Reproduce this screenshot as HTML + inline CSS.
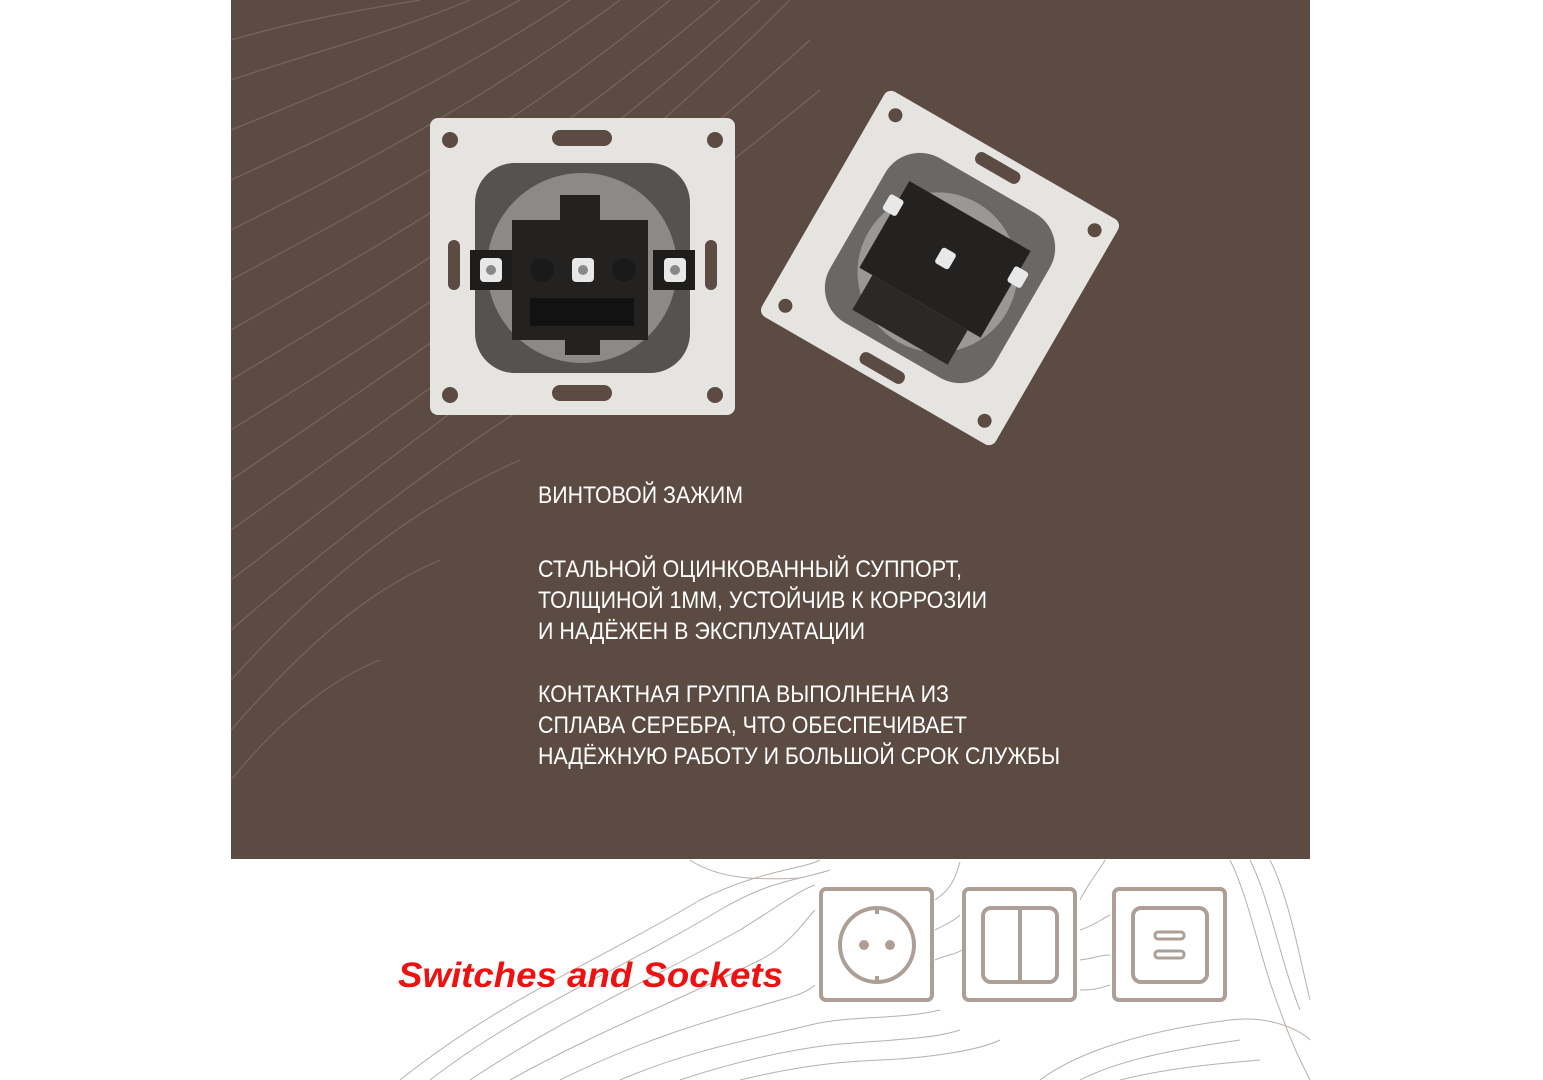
<!DOCTYPE html>
<html><head><meta charset="utf-8"><style>
html,body{margin:0;padding:0;background:#fff;}
svg{display:block}
</style></head><body>
<svg width="1543" height="1080" viewBox="0 0 1543 1080" xmlns="http://www.w3.org/2000/svg">
<rect width="1543" height="1080" fill="#fff"/>
<rect x="231" y="0" width="1079" height="859" fill="#5b4b42"/>
<!-- contour lines on brown -->
<g fill="none" stroke="#76665c" stroke-width="1.2">
<path d="M231 40 C300 20 360 10 420 0"/>
<path d="M231 80 C320 50 400 30 470 0"/>
<path d="M231 130 C330 90 430 50 520 0"/>
<path d="M231 180 C340 130 450 80 570 0"/>
<path d="M231 230 C350 170 470 110 620 0"/>
<path d="M231 280 C360 210 500 140 670 0"/>
<path d="M231 330 C370 250 520 170 720 0"/>
<path d="M231 380 C380 290 540 200 760 0"/>
<path d="M231 430 C390 330 560 230 790 0"/>
<path d="M231 480 C390 370 580 250 810 40"/>
<path d="M231 530 C400 410 600 270 820 90"/>
<path d="M231 580 C400 450 560 330 700 230"/>
<path d="M231 630 C380 500 500 420 600 360"/>
<path d="M231 680 C340 560 430 500 520 460"/>
<path d="M231 730 C310 640 370 590 440 560"/>
<path d="M231 780 C280 720 330 680 380 660"/>
</g>
<!-- contour lines on white -->
<g fill="none" stroke="#b8b0aa" stroke-width="1">
<path d="M400 1080 C500 1000 600 960 700 900 C760 870 800 870 820 860"/>
<path d="M430 1080 C520 1010 620 970 720 910 C770 880 800 880 830 870"/>
<path d="M470 1080 C560 1020 650 980 740 930 C780 905 800 890 815 885"/>
<path d="M510 1080 C600 1030 680 1000 760 960 C790 945 805 920 815 910"/>
<path d="M560 1080 C640 1040 710 1020 780 1000 C800 995 810 990 815 985"/>
<path d="M620 1080 C690 1050 750 1040 810 1025 C850 1015 900 1020 940 1010"/>
<path d="M680 1080 C740 1060 790 1050 830 1045 C880 1040 930 1040 960 1030"/>
<path d="M740 1080 C790 1068 830 1062 880 1060 C930 1058 980 1050 1000 1040"/>
<path d="M690 860 C720 880 760 880 800 878"/>
<path d="M935 900 C950 890 955 880 960 862"/>
<path d="M935 930 C945 925 955 920 960 915"/>
<path d="M935 960 C945 955 955 955 962 950"/>
<path d="M1080 900 C1090 880 1100 870 1105 860"/>
<path d="M1080 930 C1095 925 1100 920 1110 915"/>
<path d="M1080 960 C1095 958 1100 955 1110 955"/>
<path d="M1080 990 C1095 990 1100 988 1110 985"/>
<path d="M1230 860 C1250 900 1260 960 1280 1010 C1290 1040 1300 1060 1310 1080"/>
<path d="M1250 860 C1270 900 1280 960 1300 1010"/>
<path d="M1270 860 C1290 900 1300 960 1310 1000"/>
<path d="M1040 1080 C1080 1050 1150 1030 1230 1020 C1270 1015 1300 1030 1310 1040"/>
<path d="M1080 1080 C1120 1060 1170 1050 1240 1040"/>
<path d="M1120 1080 C1160 1070 1200 1065 1260 1060"/>
</g>
<!-- icons -->
<g fill="#fff" stroke="#ad9f96" stroke-width="4">
<rect x="821" y="889" width="111" height="111" rx="5"/>
<rect x="964" y="889" width="111" height="111" rx="5"/>
<rect x="1114" y="889" width="111" height="111" rx="5"/>
<circle cx="877" cy="945" r="37" fill="none"/>
<rect x="983" y="908" width="74" height="74" rx="8" fill="none"/>
<line x1="1020" y1="908" x2="1020" y2="982"/>
<rect x="1133" y="908" width="74" height="74" rx="8" fill="none"/>
<rect x="1155" y="932" width="29" height="7" rx="3" fill="none" stroke-width="3"/>
<rect x="1155" y="951" width="29" height="7" rx="3" fill="none" stroke-width="3"/>
</g>
<g fill="#ad9f96"><circle cx="864" cy="945" r="5"/><circle cx="890" cy="945" r="5"/>
<rect x="875" y="908" width="4" height="6"/><rect x="875" y="976" width="4" height="6"/></g>
<text x="398" y="987" font-family="Liberation Sans, sans-serif" font-size="35" font-weight="bold" font-style="italic" fill="#ee1111" textLength="385" lengthAdjust="spacingAndGlyphs">Switches and Sockets</text>
<!-- front socket -->
<g>
<rect x="430" y="118" width="305" height="297" rx="8" fill="#e6e4e1"/>
<circle cx="450" cy="140" r="8" fill="#5b4b42"/><circle cx="715" cy="140" r="8" fill="#5b4b42"/>
<circle cx="450" cy="395" r="8" fill="#5b4b42"/><circle cx="715" cy="395" r="8" fill="#5b4b42"/>
<rect x="552" y="130" width="60" height="16" rx="8" fill="#5b4b42"/>
<rect x="552" y="385" width="60" height="16" rx="8" fill="#5b4b42"/>
<rect x="448" y="240" width="12" height="50" rx="6" fill="#5b4b42"/>
<rect x="705" y="240" width="12" height="50" rx="6" fill="#5b4b42"/>
<rect x="475" y="163" width="215" height="210" rx="40" fill="#555250"/>
<circle cx="582" cy="268" r="95" fill="#8c8a88"/>
<path d="M512 220 H560 V195 H600 V220 H648 V340 H600 V355 H565 V340 H512 Z" fill="#232221"/>
<rect x="530" y="298" width="104" height="28" fill="#121212"/>
<rect x="470" y="250" width="42" height="40" fill="#1e1d1c"/>
<rect x="653" y="250" width="42" height="40" fill="#1e1d1c"/>
<rect x="480" y="258" width="22" height="24" rx="4" fill="#e8e8e8"/><circle cx="491" cy="270" r="5" fill="#888"/>
<rect x="572" y="258" width="22" height="24" rx="4" fill="#e8e8e8"/><circle cx="583" cy="270" r="5" fill="#888"/>
<rect x="664" y="258" width="22" height="24" rx="4" fill="#e8e8e8"/><circle cx="675" cy="270" r="5" fill="#888"/>
<circle cx="542" cy="270" r="12" fill="#1a1a1a"/><circle cx="624" cy="270" r="12" fill="#1a1a1a"/>
</g>
<!-- rotated socket -->
<g transform="translate(940 268) rotate(30)">
<rect x="-135" y="-130" width="270" height="260" rx="8" fill="#e6e4e1"/>
<circle cx="-115" cy="-110" r="7" fill="#5b4b42"/><circle cx="115" cy="-110" r="7" fill="#5b4b42"/>
<circle cx="-115" cy="110" r="7" fill="#5b4b42"/><circle cx="115" cy="110" r="7" fill="#5b4b42"/>
<rect x="-25" y="-122" width="50" height="13" rx="6" fill="#5b4b42"/>
<rect x="-25" y="109" width="50" height="13" rx="6" fill="#5b4b42"/>
<rect x="-95" y="-95" width="190" height="190" rx="40" fill="#6a6765"/>
<circle cx="0" cy="5" r="80" fill="#9a9896"/>
<path d="M-70 -60 H70 V40 H-70 Z" fill="#232221"/>
<rect x="-55" y="40" width="110" height="40" fill="#2a2928"/>
<rect x="-80" y="-40" width="16" height="18" rx="3" fill="#e8e8e8"/>
<rect x="64" y="-40" width="16" height="18" rx="3" fill="#e8e8e8"/>
<rect x="-8" y="-20" width="16" height="18" rx="3" fill="#e8e8e8"/>
</g>
<!-- text -->
<g font-family="Liberation Sans, sans-serif" font-size="24" fill="#ffffff">
<text x="538" y="503" textLength="205" lengthAdjust="spacingAndGlyphs">ВИНТОВОЙ ЗАЖИМ</text>
<text x="538" y="577" textLength="424" lengthAdjust="spacingAndGlyphs">СТАЛЬНОЙ ОЦИНКОВАННЫЙ СУППОРТ,</text>
<text x="538" y="608" textLength="449" lengthAdjust="spacingAndGlyphs">ТОЛЩИНОЙ 1ММ, УСТОЙЧИВ К КОРРОЗИИ</text>
<text x="538" y="639" textLength="327" lengthAdjust="spacingAndGlyphs">И НАДЁЖЕН В ЭКСПЛУАТАЦИИ</text>
<text x="538" y="702" textLength="411" lengthAdjust="spacingAndGlyphs">КОНТАКТНАЯ ГРУППА ВЫПОЛНЕНА ИЗ</text>
<text x="538" y="733" textLength="429" lengthAdjust="spacingAndGlyphs">СПЛАВА СЕРЕБРА, ЧТО ОБЕСПЕЧИВАЕТ</text>
<text x="538" y="764" textLength="522" lengthAdjust="spacingAndGlyphs">НАДЁЖНУЮ РАБОТУ И БОЛЬШОЙ СРОК СЛУЖБЫ</text>
</g>
</svg>
</body></html>
